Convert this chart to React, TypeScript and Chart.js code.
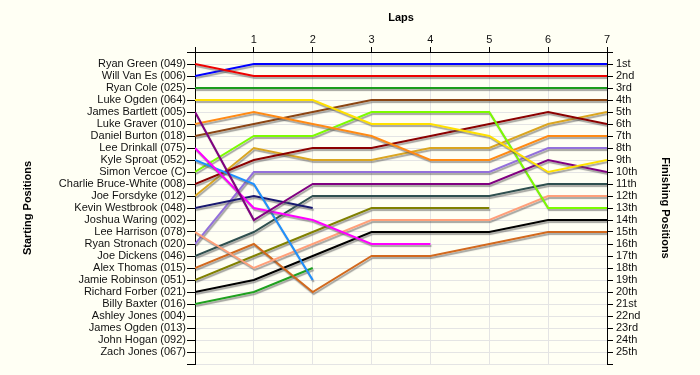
import React, { useEffect, useRef } from "react";
import { Chart, registerables } from "chart.js";

Chart.register(...registerables);

// ---- Data ----
const LAPS = [0, 1, 2, 3, 4, 5, 6, 7];
const LAP_TICKS = ["", "1", "2", "3", "4", "5", "6", "7"];

const STARTERS = [
  "Ryan Green (049)",
  "Will Van Es (006)",
  "Ryan Cole (025)",
  "Luke Ogden (064)",
  "James Bartlett (005)",
  "Luke Graver (010)",
  "Daniel Burton (018)",
  "Lee Drinkall (075)",
  "Kyle Sproat (052)",
  "Simon Vercoe (C)",
  "Charlie Bruce-White (008)",
  "Joe Forsdyke (012)",
  "Kevin Westbrook (048)",
  "Joshua Waring (002)",
  "Lee Harrison (078)",
  "Ryan Stronach (020)",
  "Joe Dickens (046)",
  "Alex Thomas (015)",
  "Jamie Robinson (051)",
  "Richard Forber (021)",
  "Billy Baxter (016)",
  "Ashley Jones (004)",
  "James Ogden (013)",
  "John Hogan (092)",
  "Zach Jones (067)",
];

const FINISH_LABELS = [
  "1st", "2nd", "3rd", "4th", "5th", "6th", "7th", "8th", "9th", "10th",
  "11th", "12th", "13th", "14th", "15th", "16th", "17th", "18th", "19th", "20th",
  "21st", "22nd", "23rd", "24th", "25th",
];

// Position per lap (index = lap number)
const ryanGreen = [1, 2, 2, 2, 2, 2, 2, 2];
const willVanEs = [2, 1, 1, 1, 1, 1, 1, 1];
const ryanCole = [3, 3, 3, 3, 3, 3, 3, 3];
const lukeOgden = [4, 4, 4, 6, 6, 7, 10, 9];
const jamesBartlett = [5, 14, 11, 11, 11, 11, 9, 10];
const lukeGraver = [6, 5, 6, 7, 9, 9, 7, 7];
const danielBurton = [7, 6, 5, 4, 4, 4, 4, 4];
const leeDrinkall = [8, 13, 14, 16, 16];
const kyleSproat = [9, 11, 19];
const simonVercoe = [10, 7, 7, 5, 5, 5, 13, 13];
const charlieBruceWhite = [11, 9, 8, 8, 7, 6, 5, 6];
const joeForsdyke = [12, 8, 9, 9, 8, 8, 6, 5];
const kevinWestbrook = [13, 12, 13];
const leeHarrison = [15, 18, 16, 14, 14, 14, 12, 12];
const ryanStronach = [16, 10, 10, 10, 10, 10, 8, 8];
const joeDickens = [17, 15, 12, 12, 12, 12, 11, 11];
const alexThomas = [18, 16, 20, 17, 17, 16, 15, 15];
const jamieRobinson = [19, 17, 15, 13, 13, 13];
const richardForber = [20, 19, 17, 15, 15, 15, 14, 14];
const billyBaxter = [21, 20, 18];

const SERIES = [
  ryanGreen, willVanEs, ryanCole, lukeOgden, jamesBartlett, lukeGraver,
  danielBurton, leeDrinkall, kyleSproat, simonVercoe, charlieBruceWhite,
  joeForsdyke, kevinWestbrook, leeHarrison, ryanStronach, joeDickens,
  alexThomas, jamieRobinson, richardForber, billyBaxter,
];
const SERIES_NAMES = [
  STARTERS[0], STARTERS[1], STARTERS[2], STARTERS[3], STARTERS[4], STARTERS[5],
  STARTERS[6], STARTERS[7], STARTERS[8], STARTERS[9], STARTERS[10],
  STARTERS[11], STARTERS[12], STARTERS[14], STARTERS[15], STARTERS[16],
  STARTERS[17], STARTERS[18], STARTERS[19], STARTERS[20],
];

// ---- Styles ----
const COLORS = [
  "#ee0000", "#0000ff", "#1c9c1c", "#ffe000", "#800080", "#ff8a14",
  "#8b4513", "#ff00ff", "#1e90ff", "#7cfc00", "#8b0000",
  "#daa520", "#191970", "#ffa07a", "#9370db", "#2f4f4f",
  "#d2691e", "#808000", "#000000", "#1fa01f",
];

const BG = "#fffff4";
const FONT = "'Liberation Sans', Arial, sans-serif";

const shadowPlugin = {
  id: "lineShadow",
  beforeDatasetsDraw(chart: any) {
    const ctx = chart.ctx;
    ctx.save();
    ctx.shadowColor = "rgba(90,90,90,0.55)";
    ctx.shadowOffsetX = 1;
    ctx.shadowOffsetY = 2;
    ctx.shadowBlur = 1;
  },
  afterDatasetsDraw(chart: any) {
    chart.ctx.restore();
  },
};

export default function App() {
  const canvasRef = useRef<HTMLCanvasElement | null>(null);

  useEffect(() => {
    document.body.style.margin = "0";
    document.body.style.background = BG;
    const canvas = canvasRef.current;
    if (!canvas) return;
    Chart.defaults.font.family = FONT;

    const datasets = SERIES.map((positions, i) => ({
      label: SERIES_NAMES[i],
      data: positions.map((p, lap) => ({ x: LAPS[lap], y: p })),
      borderColor: COLORS[i],
      backgroundColor: COLORS[i],
      borderWidth: 2,
      pointRadius: 0,
      tension: 0,
      fill: false,
      yAxisID: "y",
    }));

    const chart = new Chart(canvas, {
      type: "line",
      data: { datasets },
      plugins: [shadowPlugin],
      options: {
        animation: false,
        responsive: false,
        maintainAspectRatio: false,
        layout: { padding: { top: 0, left: 0, right: 0, bottom: 11 } },
        plugins: {
          legend: { display: false },
          tooltip: { enabled: false },
        },
        scales: {
          x: {
            type: "linear",
            position: "top",
            min: 0,
            max: 7,
            afterFit: (s: any) => {
              s.height = 52;
            },
            ticks: {
              stepSize: 1,
              autoSkip: false,
              padding: 0,
              color: "#111",
              font: { size: 11, family: FONT },
              maxRotation: 0,
              callback: (v: any) => LAP_TICKS[Number(v)] ?? "",
            },
            grid: {
              color: "#e4e4e4",
              tickColor: "#000",
              tickLength: 5,
              lineWidth: 1,
            },
            border: { display: true, color: "#000", width: 1 },
            title: {
              display: true,
              text: "Laps",
              color: "#000",
              font: { size: 11, weight: "bold", family: FONT },
              padding: { top: 11, bottom: 0 },
            },
          },
          y: {
            type: "linear",
            position: "left",
            reverse: true,
            min: 0,
            max: 26,
            afterFit: (s: any) => {
              s.width = 195;
            },
            ticks: {
              stepSize: 1,
              autoSkip: false,
              padding: 1,
              color: "#111",
              font: { size: 11, family: FONT },
              callback: (v: any) => STARTERS[Number(v) - 1] ?? "",
            },
            grid: {
              color: "#e4e4e4",
              tickColor: "#000",
              tickLength: 8,
              lineWidth: 1,
            },
            border: { display: true, color: "#000", width: 1 },
            title: {
              display: true,
              text: "Starting Positions",
              color: "#000",
              font: { size: 11, weight: "bold", family: FONT },
              padding: { top: 21, bottom: 0 },
            },
          },
          y2: {
            type: "linear",
            position: "right",
            reverse: true,
            min: 0,
            max: 26,
            afterFit: (s: any) => {
              s.width = 93;
            },
            ticks: {
              stepSize: 1,
              autoSkip: false,
              padding: 3,
              color: "#111",
              font: { size: 11, family: FONT },
              callback: (v: any) => FINISH_LABELS[Number(v) - 1] ?? "",
            },
            grid: {
              drawOnChartArea: false,
              tickColor: "#000",
              tickLength: 6,
              lineWidth: 1,
            },
            border: { display: true, color: "#000", width: 1 },
            title: {
              display: true,
              text: "Finishing Positions",
              color: "#000",
              font: { size: 11, weight: "bold", family: FONT },
              padding: { top: 28, bottom: 0 },
            },
          },
        },
      },
    } as any);

    return () => {
      chart.destroy();
    };
  }, []);

  return (
    <div
      style={{
        position: "absolute",
        left: 0,
        top: 0,
        width: 700,
        height: 375,
        background: BG,
      }}
    >
      <canvas ref={canvasRef} width={700} height={375} />
    </div>
  );
}
